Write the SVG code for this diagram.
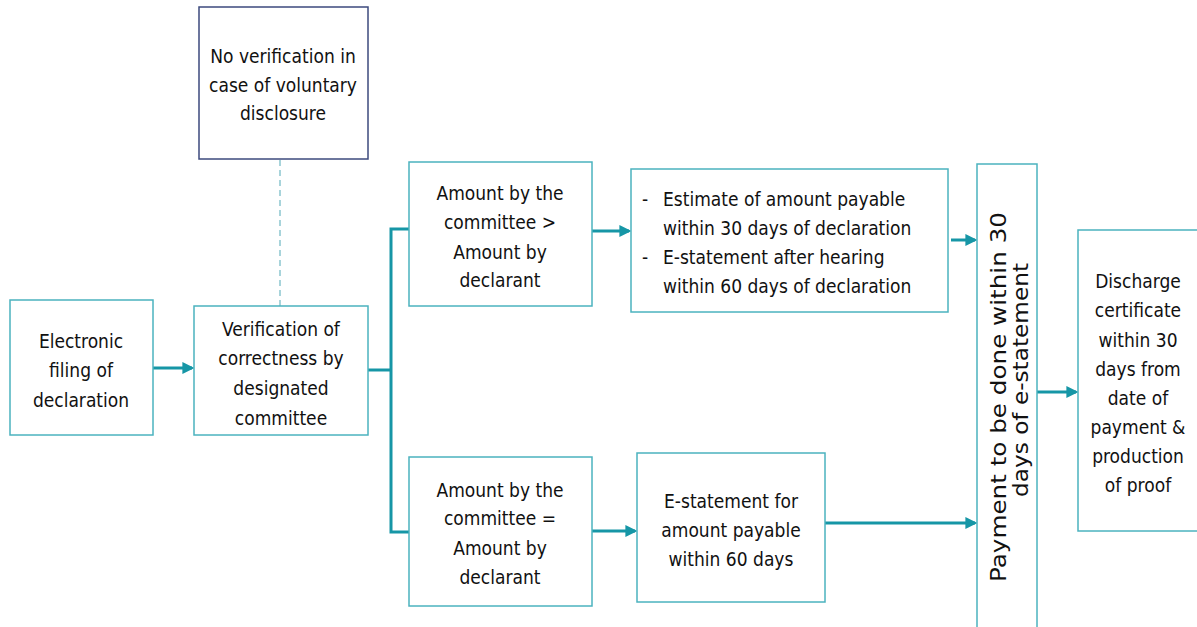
<svg xmlns="http://www.w3.org/2000/svg" width="1197" height="627" viewBox="0 0 1197 627">
<style>
.box{fill:#ffffff;stroke:#4bb3bf;stroke-width:1.5}
.navy{fill:#ffffff;stroke:#3c4a7d;stroke-width:1.5}
.t{font-family:"DejaVu Sans Condensed","DejaVu Sans",sans-serif;font-size:19px;fill:#111111;text-anchor:middle}
.tl{font-family:"DejaVu Sans Condensed","DejaVu Sans",sans-serif;font-size:19px;fill:#111111}
.rot{font-family:"DejaVu Sans",sans-serif;font-size:21px;fill:#111111}
.conn{fill:none;stroke:#1696a6;stroke-width:3}
.dash{fill:none;stroke:#6fb8c4;stroke-width:1.2;stroke-dasharray:6 4}
</style>
<defs>
<marker id="ah" markerWidth="4" markerHeight="4" refX="3.2" refY="2" orient="auto" markerUnits="strokeWidth">
<path d="M0,0 L4,2 L0,4 Z" fill="#1696a6"/>
</marker>
</defs>
<rect width="1197" height="627" fill="#ffffff"/>
<g id="connectors">
<line class="dash" x1="280" y1="160" x2="280" y2="306"/>
<line class="conn" x1="153" y1="368" x2="192" y2="368" marker-end="url(#ah)"/>
<polyline class="conn" points="368,370 391,370"/>
<polyline class="conn" points="409,229 391,229 391,532 409,532"/>
<line class="conn" x1="592" y1="231" x2="629" y2="231" marker-end="url(#ah)"/>
<line class="conn" x1="592" y1="531" x2="635" y2="531" marker-end="url(#ah)"/>
<line class="conn" x1="951" y1="240" x2="975" y2="240" marker-end="url(#ah)"/>
<line class="conn" x1="825" y1="523" x2="975" y2="523" marker-end="url(#ah)"/>
<line class="conn" x1="1037" y1="392" x2="1076" y2="392" marker-end="url(#ah)"/>
</g>
<g id="node-voluntary">
<rect class="navy" x="199" y="7" width="169" height="152"/>
<text class="t" x="283" y="63">No verification in</text>
<text class="t" x="283" y="92">case of voluntary</text>
<text class="t" x="283" y="120">disclosure</text>
</g>
<g id="node-filing">
<rect class="box" x="10" y="300" width="143" height="135"/>
<text class="t" x="81" y="348">Electronic</text>
<text class="t" x="81" y="377">filing of</text>
<text class="t" x="81" y="407">declaration</text>
</g>
<g id="node-verification">
<rect class="box" x="194" y="306" width="174" height="129"/>
<text class="t" x="281" y="336">Verification of</text>
<text class="t" x="281" y="365">correctness by</text>
<text class="t" x="281" y="395">designated</text>
<text class="t" x="281" y="425">committee</text>
</g>
<g id="node-greater">
<rect class="box" x="409" y="162" width="183" height="144"/>
<text class="t" x="500" y="200">Amount by the</text>
<text class="t" x="500" y="229">committee &gt;</text>
<text class="t" x="500" y="259">Amount by</text>
<text class="t" x="500" y="287">declarant</text>
</g>
<g id="node-equal">
<rect class="box" x="409" y="457" width="183" height="149"/>
<text class="t" x="500" y="497">Amount by the</text>
<text class="t" x="500" y="525">committee =</text>
<text class="t" x="500" y="555">Amount by</text>
<text class="t" x="500" y="584">declarant</text>
</g>
<g id="node-estimate">
<rect class="box" x="631" y="169" width="317" height="143"/>
<text class="tl" x="642" y="206">-</text>
<text class="tl" x="663" y="206">Estimate of amount payable</text>
<text class="tl" x="663" y="235">within 30 days of declaration</text>
<text class="tl" x="642" y="264">-</text>
<text class="tl" x="663" y="264">E-statement after hearing</text>
<text class="tl" x="663" y="293">within 60 days of declaration</text>
</g>
<g id="node-estatement">
<rect class="box" x="637" y="453" width="188" height="149"/>
<text class="t" x="731" y="508">E-statement for</text>
<text class="t" x="731" y="537">amount payable</text>
<text class="t" x="731" y="566">within 60 days</text>
</g>
<g id="node-payment">
<rect class="box" x="977" y="164" width="60" height="480"/>
<text class="rot" transform="translate(1006,582) rotate(-90)" textLength="370" lengthAdjust="spacingAndGlyphs">Payment to be done within 30</text>
<text class="rot" transform="translate(1028,497) rotate(-90)" textLength="234" lengthAdjust="spacingAndGlyphs">days of e-statement</text>
</g>
<g id="node-discharge">
<rect class="box" x="1078" y="230" width="130" height="301"/>
<text class="t" x="1138" y="288">Discharge</text>
<text class="t" x="1138" y="317">certificate</text>
<text class="t" x="1138" y="347">within 30</text>
<text class="t" x="1138" y="376">days from</text>
<text class="t" x="1138" y="405">date of</text>
<text class="t" x="1138" y="434">payment &amp;</text>
<text class="t" x="1138" y="463">production</text>
<text class="t" x="1138" y="492">of proof</text>
</g>
</svg>
